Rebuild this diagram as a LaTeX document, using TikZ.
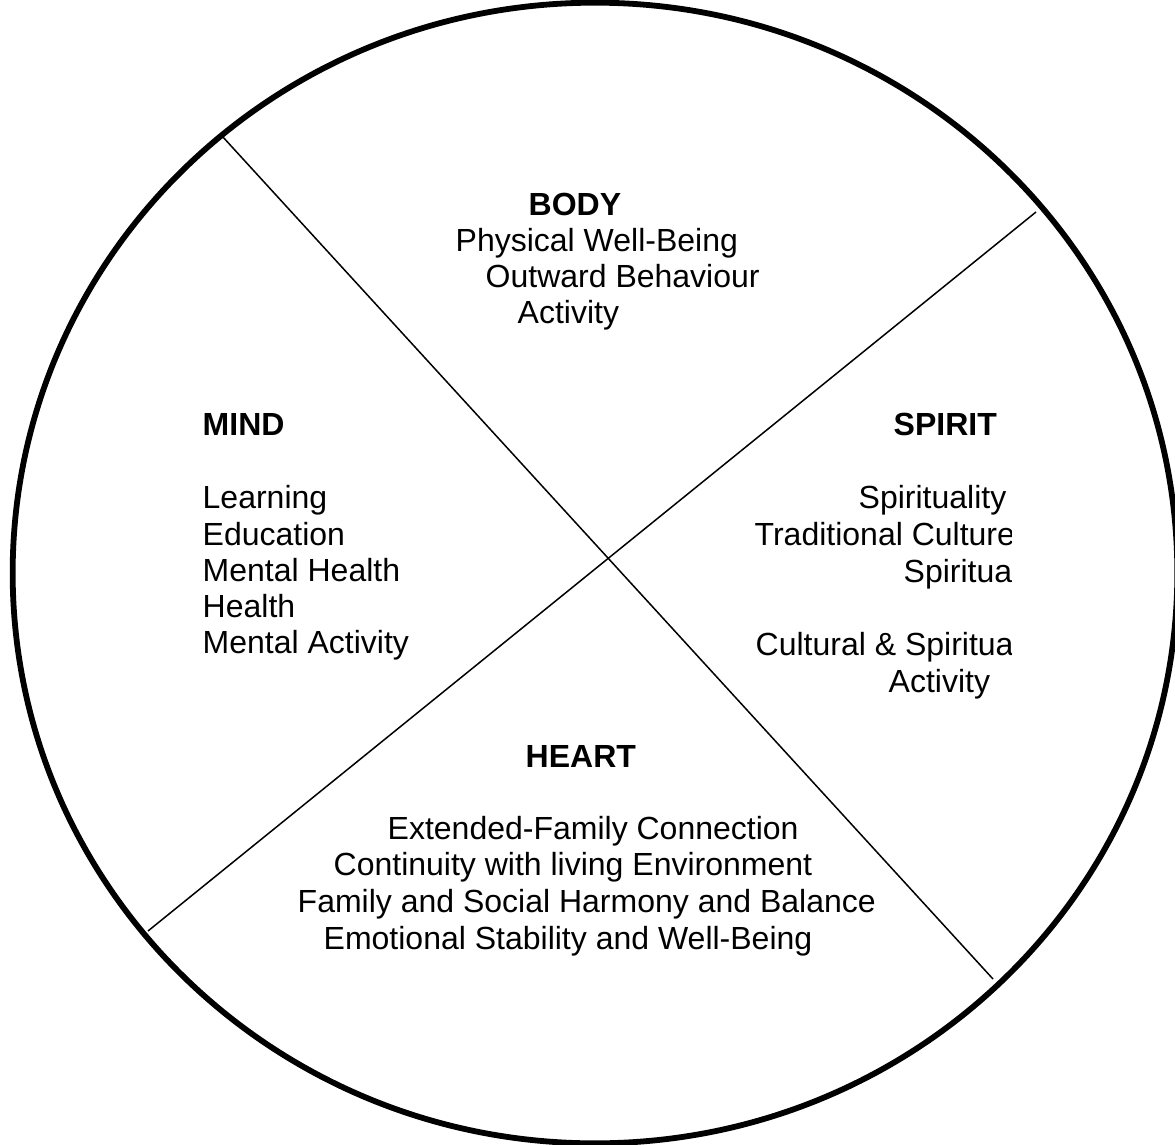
\documentclass[tikz,border=0pt]{standalone}
\usepackage{fontspec}
\setmainfont{Liberation Sans}
\usepackage{tikz}

\begin{document}
\begin{tikzpicture}
[x=0.01cm,y=-0.01cm
,rim/.style={draw=black,line width=0.058cm}
,cut/.style={draw=black,line width=0.015cm}
,lbl/.style={inner sep=0pt,anchor=base west,font=\fontsize{9.1}{10.4}\selectfont}
,head/.style={lbl,font=\fontsize{9.1}{10.4}\selectfont\bfseries}]
\useasboundingbox (0,0) rectangle (1175,1145);
\draw[rim] (595,573) ellipse [x radius=5.82cm,y radius=5.70cm];
\coordinate (nw) at (222,136);
\coordinate (se) at (993,979);
\coordinate (sw) at (148,931);
\coordinate (ne) at (1036,212);
\draw[cut] (nw) -- (se);
\draw[cut] (sw) -- (ne);
% body
\node[head] (body) at (528,215) {BODY};
\node[lbl] (body1) at (455,251) {Physical Well-Being};
\node[lbl] (body2) at (485,287) {Outward Behaviour};
\node[lbl] (body3) at (517,323) {Activity};
% mind
\node[head] (mind) at (202,435) {MIND};
\node[lbl] (mind1) at (202,508) {Learning};
\node[lbl] (mind2) at (202,545) {Education};
\node[lbl] (mind3) at (202,581) {Mental Health};
\node[lbl] (mind4) at (202,617) {Health};
\node[lbl] (mind5) at (202,653) {Mental Activity};
% spirit, cut off at the right
\node[head] (spirit) at (893,435) {SPIRIT};
\begin{scope}
\clip (0,0) rectangle (1011,1145);
\node[lbl] (spirit1) at (858,508) {Spirituality};
\node[lbl] (spirit2) at (754,545) {Traditional Culture};
\node[lbl] (spirit3) at (903,582) {Spiritual};
\node[lbl] (spirit4) at (755,655) {Cultural \& Spiritual};
\node[lbl] (spirit5) at (888,692) {Activity};
\end{scope}
% heart
\node[head] (heart) at (525,767) {HEART};
\node[lbl] (heart1) at (387,839) {Extended-Family Connection};
\node[lbl] (heart2) at (333,875) {Continuity with living Environment};
\node[lbl] (heart3) at (297,912) {Family and Social Harmony and Balance};
\node[lbl] (heart4) at (323,949) {Emotional Stability and Well-Being};
\end{tikzpicture}
\end{document}
